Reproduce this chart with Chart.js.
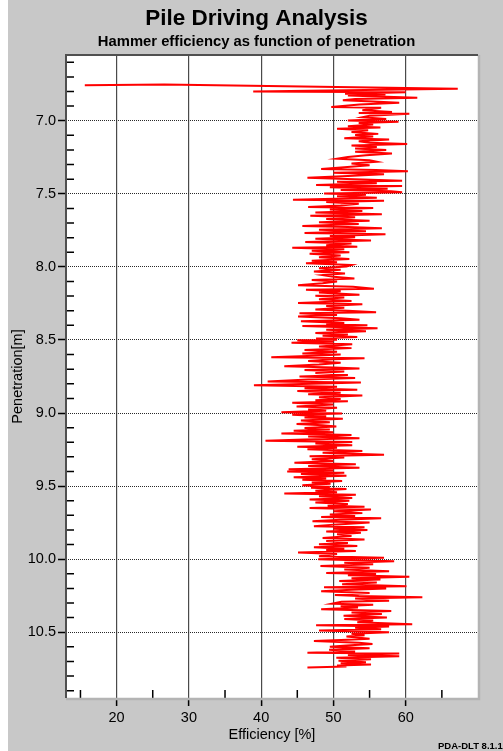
<!DOCTYPE html>
<html>
<head>
<meta charset="utf-8">
<script src="https://cdn.jsdelivr.net/npm/chart.js@4.4.1/dist/chart.umd.min.js"></script>
<style>
    html, body { margin: 0; padding: 0; background: #fff; }
    #quadro { position: relative; width: 503px; height: 751px; overflow: hidden; }
    #fundo { position: absolute; left: 8px; top: 0; width: 495px; height: 751px; background: #c8c8c8; }
    #grafico { position: absolute; left: 0; top: 0; }
    #versao { position: absolute; left: 438px; top: 740px; font: bold 9.5px "Liberation Sans", Arial, sans-serif; color: #000; white-space: nowrap; }
</style>
</head>
<body>
<div id="quadro">
    <div id="fundo"></div>
    <canvas id="grafico" width="503" height="751"></canvas>
    <div id="versao">PDA-DLT 8.1.18</div>
</div>
<script>
// penetracao [m] de cada golpe
const depth = [
    6.757, 6.752, 6.781, 6.800, 6.806, 6.815,
    6.820, 6.828, 6.843, 6.852, 6.860, 6.868, 6.877, 6.889,
    6.906, 6.912, 6.928, 6.940, 6.948, 6.953, 6.966, 6.976, 6.988, 6.998,
    7.007, 7.015, 7.026, 7.038, 7.047, 7.055, 7.066, 7.078, 7.090, 7.097,
    7.108, 7.120, 7.128, 7.140, 7.150, 7.160, 7.170, 7.180, 7.190, 7.200,
    7.212, 7.225, 7.236, 7.248, 7.260, 7.270, 7.280, 7.292,
    7.305, 7.318, 7.330, 7.338, 7.345, 7.356, 7.366, 7.378, 7.390,
    7.410, 7.418, 7.428, 7.440, 7.446, 7.455, 7.465, 7.474, 7.483, 7.490, 7.498,
    7.507, 7.516, 7.527, 7.540, 7.548, 7.557, 7.568, 7.580, 7.590, 7.598,
    7.608, 7.618, 7.628, 7.640, 7.650, 7.660, 7.672, 7.684, 7.694,
    7.706, 7.720, 7.728, 7.735, 7.746, 7.756, 7.768, 7.776, 7.788, 7.798,
    7.808, 7.820, 7.830, 7.840, 7.852, 7.862, 7.870, 7.880, 7.890, 7.900,
    7.910, 7.922, 7.934, 7.946, 7.958, 7.968, 7.976, 7.988, 7.998,
    8.010, 8.020, 8.032, 8.045, 8.056, 8.068, 8.080, 8.090, 8.100,
    8.112, 8.125, 8.136, 8.150, 8.156, 8.166, 8.176, 8.190, 8.198,
    8.210, 8.222, 8.234, 8.248, 8.256, 8.268, 8.280, 8.292, 8.300,
    8.310, 8.318, 8.330, 8.340, 8.352, 8.362, 8.372, 8.384, 8.394, 8.400,
    8.405, 8.420, 8.430, 8.440, 8.452, 8.462, 8.472, 8.480, 8.490, 8.498,
    8.502, 8.512, 8.520, 8.530, 8.545, 8.556, 8.568, 8.580, 8.592, 8.600,
    8.610, 8.618, 8.625, 8.632, 8.644, 8.656, 8.668, 8.680, 8.688, 8.695,
    8.705, 8.716, 8.726, 8.740, 8.750, 8.760, 8.770, 8.785, 8.792,
    8.800, 8.810, 8.820, 8.830, 8.840, 8.850, 8.862, 8.872, 8.880, 8.892,
    8.904, 8.912, 8.920, 8.930, 8.942, 8.955, 8.964, 8.976, 8.985, 8.995,
    9.004, 9.012, 9.022, 9.030, 9.040, 9.052, 9.064, 9.075, 9.084, 9.092,
    9.102, 9.112, 9.122, 9.132, 9.140, 9.150, 9.160, 9.172, 9.182, 9.190, 9.198,
    9.208, 9.220, 9.230, 9.238, 9.248, 9.260, 9.272, 9.285, 9.295,
    9.305, 9.316, 9.328, 9.340, 9.350, 9.362, 9.375, 9.384, 9.394, 9.400,
    9.408, 9.418, 9.430, 9.440, 9.448, 9.456, 9.466, 9.476, 9.484, 9.494,
    9.504, 9.512, 9.520, 9.532, 9.542, 9.550, 9.560, 9.570, 9.582, 9.592, 9.600,
    9.612, 9.622, 9.635, 9.642, 9.650, 9.660, 9.672, 9.685, 9.694,
    9.705, 9.712, 9.720, 9.730, 9.740, 9.750, 9.762, 9.775, 9.782, 9.792,
    9.800, 9.810, 9.820, 9.830, 9.842, 9.855, 9.865, 9.875, 9.890, 9.898,
    9.910, 9.918, 9.928, 9.938, 9.945, 9.955, 9.965, 9.980, 9.990,
    10.000, 10.015, 10.025, 10.035, 10.046, 10.058, 10.070, 10.082, 10.095,
    10.102, 10.110, 10.120, 10.130, 10.140, 10.150, 10.160, 10.172, 10.185, 10.192, 10.200,
    10.210, 10.220, 10.232, 10.245, 10.252, 10.260, 10.270, 10.285, 10.292,
    10.305, 10.312, 10.322, 10.330, 10.342, 10.355, 10.365, 10.375, 10.388, 10.400,
    10.410, 10.420, 10.432, 10.445, 10.452, 10.460, 10.470, 10.480, 10.488, 10.500,
    10.510, 10.520, 10.530, 10.545, 10.552, 10.560, 10.572, 10.580, 10.590, 10.600,
    10.610, 10.620, 10.632, 10.640, 10.646, 10.656, 10.664, 10.675, 10.685, 10.695,
    10.705, 10.712, 10.720, 10.728, 10.735, 10.742
];

// eficiencia do martelo [%], mesma ordem
const efficiency = [
    15.6, 26.6, 67.2, 38.9, 60.0, 51.6,
    57.2, 52.0, 61.6, 53.0, 51.3, 55.5, 59.1, 53.6,
    49.7, 56.6, 54.0, 58.1, 53.5, 60.5, 55.0, 54.0, 57.3, 52.0,
    59.0, 53.5, 55.5, 52.0, 56.5, 50.5, 54.8, 52.5, 56.2, 53.0,
    55.5, 51.5, 57.7, 53.5, 55.0, 60.2, 52.5, 56.0, 53.0, 57.3,
    53.0, 58.1, 54.5, 52.0, 50.5, 55.0, 56.0, 52.5,
    55.0, 51.5, 48.3, 55.9, 60.3, 50.0, 57.0, 52.0, 46.4,
    59.5, 50.5, 56.0, 47.6, 59.5, 49.5, 57.5, 51.0, 58.0, 59.5, 48.7,
    54.5, 50.5, 56.0, 44.4, 57.0, 49.0, 53.5, 51.0, 46.5, 55.5,
    49.5, 54.0, 47.5, 56.7, 46.8, 53.0, 49.0, 55.0, 48.0,
    53.5, 45.7, 52.0, 56.7, 48.0, 54.5, 46.0, 57.2, 49.5, 53.0,
    47.5, 55.2, 46.1, 52.5, 49.0, 53.3, 44.3, 51.5, 47.0, 52.2,
    46.7, 51.0, 48.0, 52.2, 47.0, 50.5, 46.2, 52.5, 51.8,
    48.0, 51.0, 47.3, 51.6, 48.5, 50.0, 52.9, 47.0, 50.5,
    48.5, 45.1, 52.7, 55.6, 46.2, 51.0, 48.0, 53.6, 47.5,
    51.5, 48.0, 52.5, 45.1, 54.0, 49.0, 51.5, 47.5, 52.0,
    55.9, 45.3, 50.5, 45.1, 51.0, 53.6, 45.5, 51.5, 49.0, 54.7,
    45.7, 56.1, 49.0, 54.5, 47.5, 52.0, 48.5, 53.3, 47.6, 50.5,
    45.0, 50.0, 44.2, 52.6, 48.0, 52.5, 46.0, 50.5, 45.7, 51.0,
    46.4, 41.4, 54.3, 50.0, 46.5, 51.0, 48.0, 43.2, 50.0, 53.6,
    46.0, 51.5, 47.5, 52.0, 45.3, 53.0, 46.5, 40.9, 53.8,
    47.0, 39.0, 50.5, 46.0, 53.3, 45.0, 51.0, 46.5, 54.0, 48.0,
    51.0, 47.5, 52.0, 44.3, 50.0, 44.9, 50.5, 46.5, 49.0, 42.8,
    51.2, 44.3, 49.0, 46.0, 51.3, 45.5, 49.5, 44.9, 48.5, 50.4,
    46.0, 49.5, 44.5, 50.0, 42.8, 52.5, 46.5, 53.6, 46.0, 40.6, 52.6,
    47.5, 52.6, 45.0, 50.5, 46.4, 54.0, 48.5, 57.0, 46.7,
    51.5, 47.0, 50.0, 44.6, 53.1, 46.5, 53.6, 43.8, 50.0, 43.6,
    51.5, 45.5, 51.8, 44.5, 49.0, 45.7, 51.2, 47.0, 49.6, 45.7,
    49.5, 46.9, 51.8, 47.5, 50.5, 43.2, 53.1, 48.0, 52.6, 46.7, 52.2,
    47.5, 52.0, 49.2, 54.3, 46.7, 55.2, 50.0, 54.0, 49.5,
    53.0, 48.3, 56.6, 51.0, 47.1, 55.0, 50.5, 47.3, 54.3, 50.0,
    54.7, 49.0, 53.8, 50.5, 52.5, 48.5, 54.3, 49.0, 52.0, 48.0,
    53.3, 47.3, 51.5, 49.0, 53.1, 45.1, 50.5, 48.0, 57.0,
    47.9, 58.4, 51.5, 55.5, 48.2, 55.0, 51.5, 57.7, 49.0,
    55.9, 52.0, 60.5, 52.5, 56.5, 50.8, 56.0, 51.2, 60.1, 48.7, 57.3,
    52.5, 48.3, 55.0, 50.2, 53.5, 62.3, 53.0, 57.7, 51.1,
    49.8, 55.5, 51.0, 53.4, 48.3, 58.0, 52.5, 56.7, 51.4, 57.4,
    51.5, 55.5, 53.3, 60.9, 47.6, 57.7, 53.0, 56.6, 48.0, 57.7,
    52.5, 54.3, 51.8, 55.0, 52.0, 47.3, 53.5, 55.4, 51.8, 49.5,
    55.0, 49.4, 53.0, 46.4, 59.1, 52.0, 59.1, 50.4, 55.2, 50.7,
    54.5, 51.0, 55.2, 50.5, 51.8, 46.4
];

const effTicks = [15, 20, 25, 30, 35, 40, 45, 50, 55, 60, 65];
const effLabels = ['', '20', '', '30', '', '40', '', '50', '', '60', ''];
const depthTicks = [
    6.6, 6.7, 6.8, 6.9, 7.0, 7.1, 7.2, 7.3, 7.4, 7.5, 7.6, 7.7, 7.8, 7.9,
    8.0, 8.1, 8.2, 8.3, 8.4, 8.5, 8.6, 8.7, 8.8, 8.9, 9.0, 9.1, 9.2, 9.3,
    9.4, 9.5, 9.6, 9.7, 9.8, 9.9, 10.0, 10.1, 10.2, 10.3, 10.4, 10.5, 10.6,
    10.7, 10.8, 10.9
];

const fonte = '"Liberation Sans", Arial, sans-serif';

function meioMetro(v) {
    return Math.abs(v * 2 - Math.round(v * 2)) < 1e-6;
}

const moldura = {
    id: 'moldura',
    beforeDraw(chart) {
        const { ctx, chartArea: a } = chart;
        ctx.save();
        ctx.fillStyle = '#ffffff';
        ctx.fillRect(a.left, a.top, a.right - a.left, a.bottom - a.top);
        ctx.restore();
    },
    afterDraw(chart) {
        const { ctx, chartArea: a, scales } = chart;
        ctx.save();
        // marcas menores para dentro
        ctx.strokeStyle = '#000';
        ctx.lineWidth = 1.5;
        ctx.beginPath();
        effTicks.forEach(function (v, i) {
            if (effLabels[i] !== '') return;
            const x = scales.x.getPixelForValue(v);
            ctx.moveTo(x, a.bottom);
            ctx.lineTo(x, a.bottom - 8);
        });
        depthTicks.forEach(function (v) {
            if (meioMetro(v)) return;
            const y = scales.y.getPixelForValue(v);
            ctx.moveTo(a.left, y);
            ctx.lineTo(a.left + 8, y);
        });
        ctx.stroke();
        // borda com efeito 3D
        ctx.strokeStyle = '#b4b4b4';
        ctx.lineWidth = 2.5;
        ctx.beginPath();
        ctx.moveTo(a.left, a.bottom + 1);
        ctx.lineTo(a.right + 1, a.bottom + 1);
        ctx.lineTo(a.right + 1, a.top);
        ctx.stroke();
        ctx.strokeStyle = '#505050';
        ctx.lineWidth = 2;
        ctx.beginPath();
        ctx.moveTo(a.left, a.bottom);
        ctx.lineTo(a.left, a.top);
        ctx.lineTo(a.right, a.top);
        ctx.stroke();
        ctx.restore();
    }
};

const pontos = depth.map(function (d, i) {
    return { x: efficiency[i], y: d };
});

new Chart(document.getElementById('grafico'), {
    type: 'scatter',
    data: {
        datasets: [{
            data: pontos,
            showLine: true,
            borderColor: '#ff0000',
            borderWidth: 2,
            pointRadius: 0,
            tension: 0
        }]
    },
    options: {
        responsive: false,
        animation: false,
        layout: { padding: { left: 10, right: 0, top: 0, bottom: 0 } },
        plugins: {
            legend: { display: false },
            tooltip: { enabled: false },
            title: {
                display: true,
                text: 'Pile Driving Analysis',
                color: '#000',
                font: { family: fonte, size: 22.5, weight: 'bold', lineHeight: 1.15 },
                padding: { top: 6, bottom: 0 }
            },
            subtitle: {
                display: true,
                text: 'Hammer efficiency as function of penetration',
                color: '#000',
                font: { family: fonte, size: 14.8, weight: 'bold', lineHeight: 1.1 },
                padding: { top: 1.8, bottom: 5 }
            }
        },
        scales: {
            x: {
                type: 'linear',
                position: 'bottom',
                min: 13,
                max: 70,
                afterBuildTicks: function (s) { s.ticks = effTicks.map(function (v) { return { value: v }; }); },
                afterFit: function (s) { s.height = 53; },
                grid: {
                    color: function (c) { return effLabels[c.index] ? '#4a4a4a' : 'rgba(0,0,0,0)'; },
                    tickColor: function (c) { return effLabels[c.index] ? '#000' : 'rgba(0,0,0,0)'; },
                    lineWidth: 1.2,
                    tickLength: 8,
                    tickWidth: 1.5
                },
                border: { display: false },
                ticks: {
                    callback: function (v, i) { return effLabels[i]; },
                    color: '#000',
                    font: { family: fonte, size: 14.5 },
                    padding: 3,
                    maxRotation: 0,
                    autoSkip: false
                },
                title: {
                    display: true,
                    text: 'Efficiency [%]',
                    color: '#000',
                    font: { family: fonte, size: 14.5, lineHeight: 1.2 },
                    padding: { top: 0, bottom: 7 }
                }
            },
            y: {
                type: 'linear',
                position: 'left',
                reverse: true,
                min: 6.55,
                max: 10.95,
                afterBuildTicks: function (s) { s.ticks = depthTicks.map(function (v) { return { value: v }; }); },
                afterFit: function (s) { s.width = 56; },
                grid: {
                    color: function (c) { return c.tick && meioMetro(c.tick.value) ? '#2a2a2a' : 'rgba(0,0,0,0)'; },
                    tickColor: function (c) { return c.tick && meioMetro(c.tick.value) ? '#000' : 'rgba(0,0,0,0)'; },
                    lineWidth: 1,
                    tickLength: 8,
                    tickWidth: 1.5
                },
                border: { display: false, dash: [1, 1] },
                ticks: {
                    callback: function (v) { return meioMetro(v) ? v.toFixed(1) : ''; },
                    color: '#000',
                    font: { family: fonte, size: 14.5 },
                    padding: 2,
                    autoSkip: false
                },
                title: {
                    display: true,
                    text: 'Penetration[m]',
                    color: '#000',
                    font: { family: fonte, size: 14.5, lineHeight: 0.85 },
                    padding: { top: 2, bottom: 0 }
                }
            },
            lado: {
                type: 'linear',
                position: 'right',
                afterFit: function (s) { s.width = 25; },
                grid: { display: false },
                border: { display: false },
                ticks: { display: false }
            }
        }
    },
    plugins: [moldura]
});
</script>
</body>
</html>
